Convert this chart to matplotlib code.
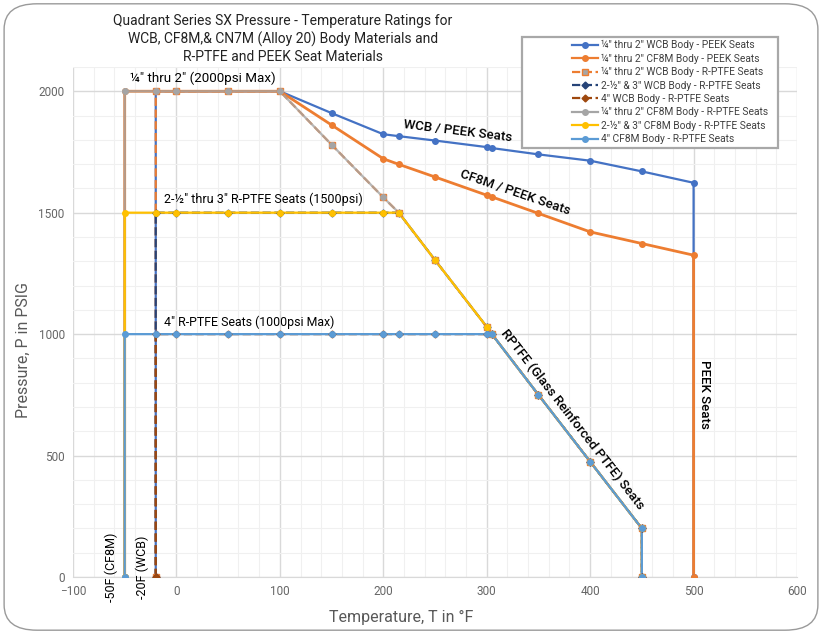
import matplotlib.pyplot as plt
from matplotlib.patches import FancyBboxPatch, Rectangle
from matplotlib.ticker import MultipleLocator

plt.rcParams['font.family'] = ['Roboto', 'DejaVu Sans']

# temperatures (F) and pressures (psig)
wcb_peek_t = [-20, -20, 0, 50, 100, 150, 200, 215, 250, 300, 305, 350, 400, 450, 500, 500]
wcb_peek_p = [0, 2000, 2000, 2000, 2000, 1910, 1823, 1815, 1797, 1770, 1766, 1740, 1714, 1670, 1623, 0]

cf8m_peek_t = [-50, -50, -20, 0, 50, 100, 150, 200, 215, 250, 300, 305, 350, 400, 450, 500, 500]
cf8m_peek_p = [0, 2000, 2000, 2000, 2000, 2000, 1861, 1722, 1699, 1647, 1572, 1565, 1497, 1421, 1373, 1325, 0]

wcb_rptfe_small_t = [-20, -20, 0, 50, 100, 150, 200, 215, 250, 300, 305, 350, 400, 450, 450]
wcb_rptfe_small_p = [0, 2000, 2000, 2000, 2000, 1780, 1563, 1500, 1305, 1030, 1000, 750, 475, 200, 0]

wcb_rptfe_mid_t = [-20, -20, 0, 50, 100, 150, 200, 215, 250, 300, 305, 350, 400, 450, 450]
wcb_rptfe_mid_p = [0, 1500, 1500, 1500, 1500, 1500, 1500, 1500, 1305, 1030, 1000, 750, 475, 200, 0]

wcb_rptfe_4_t = [-20, -20, 0, 50, 100, 150, 200, 215, 250, 300, 305, 350, 400, 450, 450]
wcb_rptfe_4_p = [0, 1000, 1000, 1000, 1000, 1000, 1000, 1000, 1000, 1000, 1000, 750, 475, 200, 0]

cf8m_rptfe_small_t = [-50, -50, -20, 0, 50, 100, 150, 200, 215, 250, 300, 305, 350, 400, 450, 450]
cf8m_rptfe_small_p = [0, 2000, 2000, 2000, 2000, 2000, 1780, 1563, 1500, 1305, 1030, 1000, 750, 475, 200, 0]

cf8m_rptfe_mid_t = [-50, -50, -20, 0, 50, 100, 150, 200, 215, 250, 300, 305, 350, 400, 450, 450]
cf8m_rptfe_mid_p = [0, 1500, 1500, 1500, 1500, 1500, 1500, 1500, 1500, 1305, 1030, 1000, 750, 475, 200, 0]

cf8m_rptfe_4_t = [-50, -50, -20, 0, 50, 100, 150, 200, 215, 250, 300, 305, 350, 400, 450, 450]
cf8m_rptfe_4_p = [0, 1000, 1000, 1000, 1000, 1000, 1000, 1000, 1000, 1000, 1000, 1000, 750, 475, 200, 0]

series = [
    ('¼" thru 2" WCB Body - PEEK Seats', wcb_peek_t, wcb_peek_p, '#4472C4', '-', 'o', '#4472C4', '#4472C4'),
    ('¼" thru 2" CF8M Body - PEEK Seats', cf8m_peek_t, cf8m_peek_p, '#ED7D31', '-', 'o', '#ED7D31', '#ED7D31'),
    ('¼" thru 2" WCB Body - R-PTFE Seats', wcb_rptfe_small_t, wcb_rptfe_small_p, '#ED7D31', '--', 's', '#A5A5A5', '#ED7D31'),
    ('2-½" & 3" WCB Body - R-PTFE Seats', wcb_rptfe_mid_t, wcb_rptfe_mid_p, '#264478', '--', 'D', '#264478', '#264478'),
    ('4" WCB Body - R-PTFE Seats', wcb_rptfe_4_t, wcb_rptfe_4_p, '#9E480E', '--', 'D', '#9E480E', '#9E480E'),
    ('¼" thru 2" CF8M Body - R-PTFE Seats', cf8m_rptfe_small_t, cf8m_rptfe_small_p, '#A5A5A5', '-', 'o', '#A5A5A5', '#A5A5A5'),
    ('2-½" & 3" CF8M Body - R-PTFE Seats', cf8m_rptfe_mid_t, cf8m_rptfe_mid_p, '#FFC000', '-', 'o', '#FFC000', '#FFC000'),
    ('4" CF8M Body - R-PTFE Seats', cf8m_rptfe_4_t, cf8m_rptfe_4_p, '#5B9BD5', '-', 'o', '#5B9BD5', '#5B9BD5'),
]

fig = plt.figure(figsize=(8.22, 6.34), dpi=100)
ax = fig.add_axes([0.0888, 0.0899, 0.8808, 0.8045])

for i, (name, t, p, col, ls, mk, face, edge) in enumerate(series):
    ms = 5 if mk == 's' else (3.5 if mk == 'D' else 4)
    alpha = 0.8 if col == '#A5A5A5' else 1
    lw = 2.0 if i == 1 else 1.6
    ax.plot(t, p, color=col, linestyle=ls, linewidth=lw, alpha=alpha, zorder=2 + i * 0.05)
    ax.plot(t, p, linestyle='none', marker=mk, markersize=ms, markerfacecolor=face,
            markeredgecolor=edge, markeredgewidth=1, zorder=3 + i * 0.05)
    # legend proxy
    ax.plot([], [], color=col, linestyle=ls, linewidth=1.6, marker=mk, markersize=ms,
            markerfacecolor=face, markeredgecolor=edge, label=name)

ax.set_xlim(-100, 600)
ax.set_ylim(0, 2100)
ax.xaxis.set_major_locator(MultipleLocator(100))
ax.xaxis.set_minor_locator(MultipleLocator(20))
ax.yaxis.set_major_locator(MultipleLocator(500))
ax.yaxis.set_minor_locator(MultipleLocator(100))
ax.grid(which='major', color='#D9D9D9', linewidth=1)
ax.grid(which='minor', color='#F0F0F0', linewidth=0.8)
ax.set_axisbelow(True)
ax.tick_params(which='both', length=0, labelsize=8.5, labelcolor='#666666', pad=6)
for s in ['top', 'right', 'left']:
    ax.spines[s].set_visible(False)
ax.spines['bottom'].set_color('#D9D9D9')

ax.set_xlabel('Temperature, T in °F', fontsize=11.5, color='#595959')
ax.set_ylabel('Pressure, P in PSIG', fontsize=11.5, color='#595959')
ax.xaxis.set_label_coords(0.453, -0.065)
ax.yaxis.set_label_coords(-0.058, 0.445)

fig.text(0.344, 0.978, 'Quadrant Series SX Pressure - Temperature Ratings for\n'
         'WCB, CF8M,& CN7M (Alloy 20) Body Materials and\nR-PTFE and PEEK Seat Materials',
         ha='center', va='top', fontsize=10, linespacing=1.3, color='#222222')

ax.text(-45, 2054, '¼" thru 2" (2000psi Max)', fontsize=9.6, va='center')
ax.text(-12, 1555, '2-½" thru 3" R-PTFE Seats (1500psi)', fontsize=9, va='center')
ax.text(-12, 1047, '4" R-PTFE Seats (1000psi Max)', fontsize=8.9, va='center')
ax.text(272, 1836, 'WCB / PEEK Seats', fontsize=9.5, fontweight='medium', rotation=-7,
        ha='center', va='center', rotation_mode='anchor')
ax.text(327, 1582, 'CF8M / PEEK Seats', fontsize=9.5, fontweight='medium', rotation=-19,
        ha='center', va='center', rotation_mode='anchor')
ax.text(383, 647, 'RPTFE (Glass Reinforced PTFE) Seats', fontsize=9.5, fontweight='medium',
        rotation=-52, ha='center', va='center', rotation_mode='anchor')
ax.text(511, 750, 'PEEK Seats', fontsize=9.5, fontweight='medium', rotation=-90,
        ha='center', va='center')
ax.text(-63, 40, '-50F (CF8M)', fontsize=9, rotation=90, ha='center', va='center', clip_on=False)
ax.text(-33, 40, '-20F (WCB)', fontsize=9, rotation=90, ha='center', va='center', clip_on=False)

# legend box drawn separately so it can be wider than its contents
box = Rectangle((522 / 822, 1 - 148 / 634), 256 / 822, 111 / 634, transform=fig.transFigure,
                facecolor='white', edgecolor='#A8A8A8', linewidth=1.6, zorder=9)
ax.add_artist(box)
box.set_clip_on(False)
leg = ax.legend(loc='upper left', bbox_to_anchor=(572 / 822, 1 - 40 / 634), bbox_transform=fig.transFigure,
                fontsize=7.35, frameon=False, handlelength=2.5, borderpad=0,
                labelspacing=0.31, handletextpad=0.3, borderaxespad=0)
for txt in leg.get_texts():
    txt.set_color('#404040')
leg.set_zorder(10)

fig.patches.append(FancyBboxPatch((0.005, 0.006), 0.99, 0.988, boxstyle='round,pad=0,rounding_size=0.04',
                                  transform=fig.transFigure, fill=False, edgecolor='#9A9A9A',
                                  linewidth=1, figure=fig))

fig.savefig('out.png', dpi=100)
